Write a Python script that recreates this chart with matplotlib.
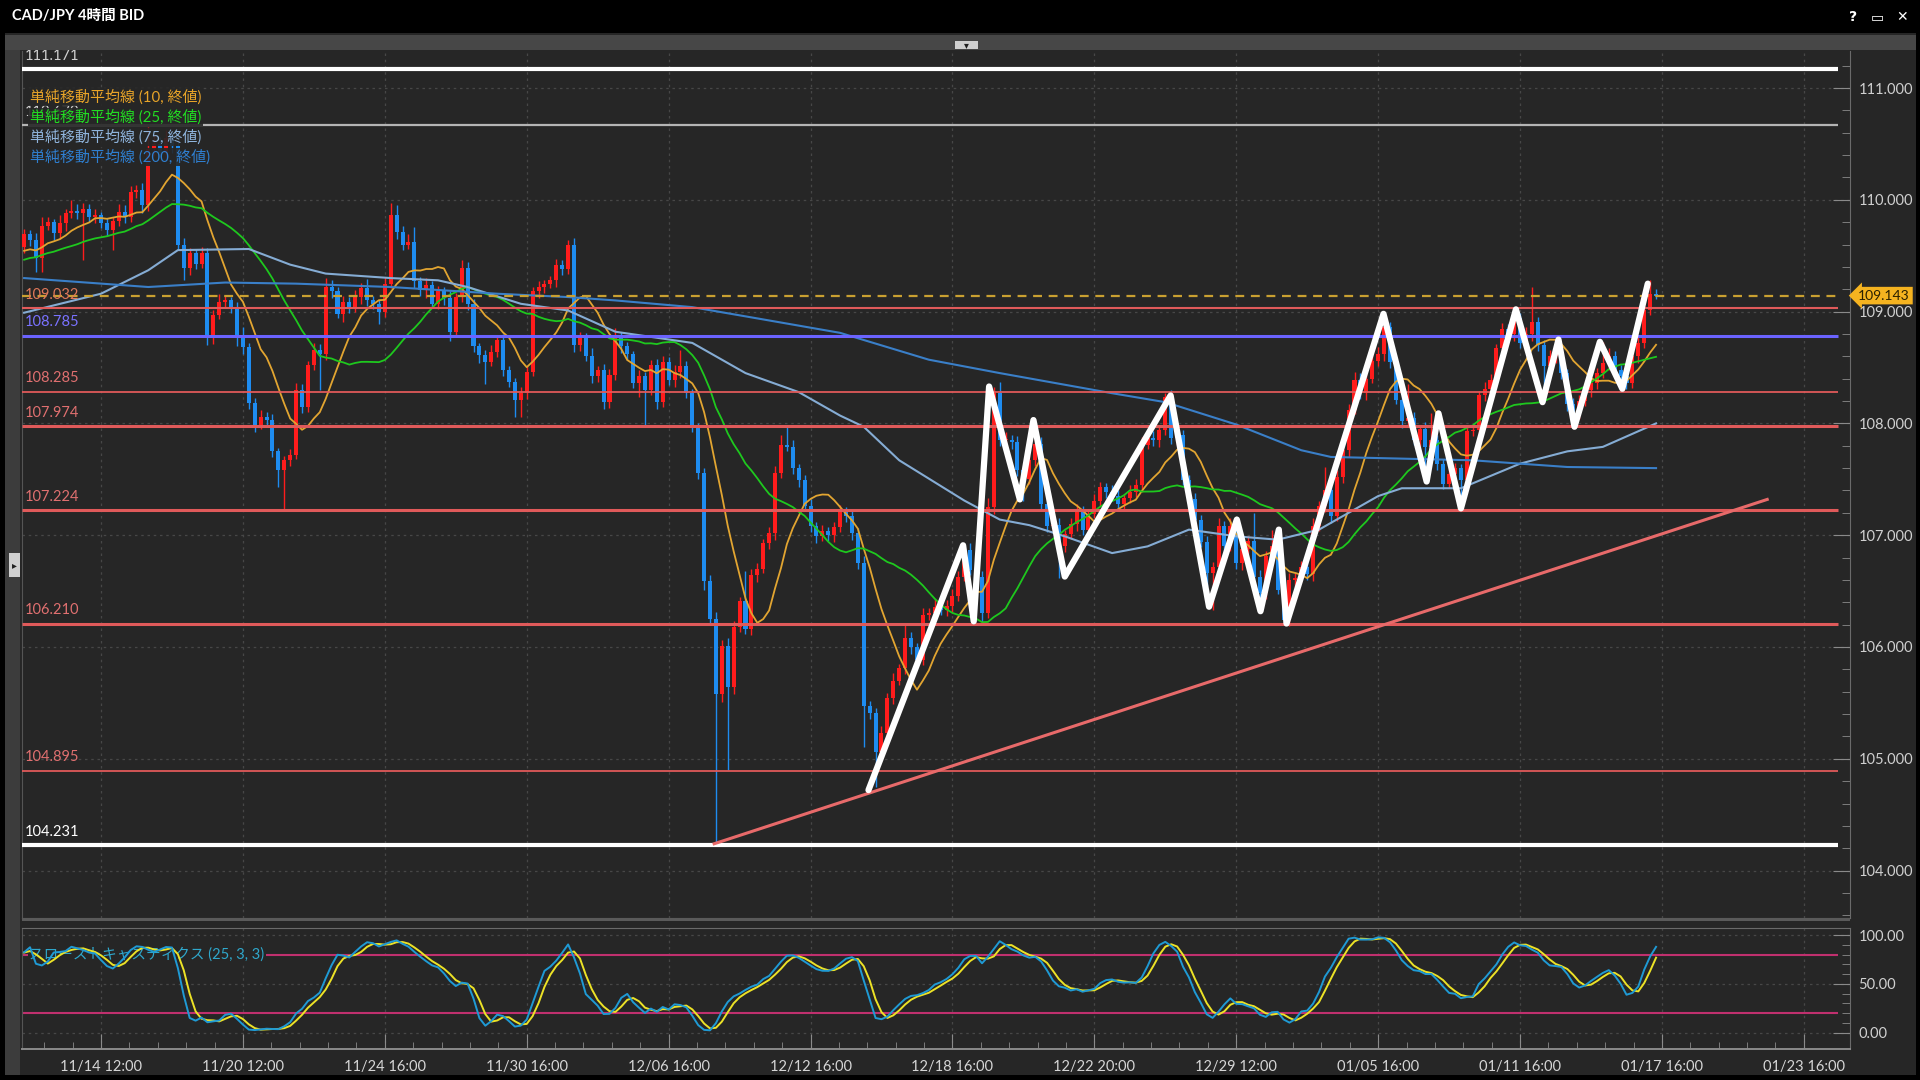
import numpy as np
import pandas as pd
import matplotlib
matplotlib.use("Agg")
import matplotlib.pyplot as plt
from matplotlib.patches import Rectangle
from matplotlib.ticker import FixedLocator

plt.rcParams['font.family'] = ['Lato', 'Noto Sans CJK JP', 'DejaVu Sans']

# ---------------- data ----------------
# closes before the visible window, only used to seed the moving averages / stochastics
prior_closes = [109.25, 109.31, 109.28, 109.36, 109.40, 109.33, 109.45, 109.52, 109.47, 109.39,
                109.44, 109.50, 109.56, 109.48, 109.42, 109.51, 109.58, 109.49, 109.44, 109.53,
                109.60, 109.55, 109.47, 109.58]
first_open = 109.58

closes = np.array([
    109.69, 109.64, 109.48, 109.77, 109.80, 109.70, 109.79, 109.88, 109.90, 109.88,
    109.92, 109.85, 109.86, 109.79, 109.73, 109.81, 109.89, 109.85, 110.07, 110.09,
    109.95, 110.45, 110.50, 110.42, 110.55, 110.48, 109.60, 109.39, 109.52, 109.43,
    109.52, 108.76, 108.97, 109.09, 109.10, 109.04, 108.77, 108.68, 108.18, 107.99,
    108.06, 108.03, 107.75, 107.58, 107.67, 107.72, 108.30, 108.15, 108.52, 108.66,
    108.62, 109.22, 109.18, 108.98, 109.09, 109.04, 109.13, 109.21, 109.10, 109.07,
    109.00, 109.25, 109.86, 109.71, 109.60, 109.62, 109.27, 109.19, 109.24, 109.07,
    109.18, 109.12, 108.82, 109.13, 109.39, 109.07, 108.69, 108.61, 108.55, 108.64,
    108.75, 108.48, 108.37, 108.21, 108.27, 108.46, 109.18, 109.22, 109.25, 109.28,
    109.42, 109.38, 109.60, 108.70, 108.77, 108.60, 108.42, 108.48, 108.19, 108.43,
    108.77, 108.69, 108.62, 108.36, 108.42, 108.30, 108.52, 108.19, 108.55, 108.39,
    108.46, 108.51, 108.27, 107.97, 107.56, 106.59, 106.25, 105.58, 106.01, 105.64,
    106.18, 106.41, 106.16, 106.64, 106.70, 106.93, 107.02, 107.56, 107.81, 107.79,
    107.60, 107.49, 107.26, 107.08, 106.99, 107.04, 107.00, 107.07, 107.21, 107.17,
    107.02, 106.75, 105.47, 105.41, 105.06, 105.23, 105.54, 105.70, 105.81, 106.08,
    106.00, 105.88, 106.29, 106.30, 106.36, 106.33, 106.37, 106.46, 106.63, 106.87,
    106.69, 106.63, 106.30, 107.25, 108.27, 107.85, 107.85, 107.83, 107.58, 107.50,
    107.67, 107.82, 107.28, 107.08, 107.09, 106.90, 107.01, 107.10, 107.21, 107.05,
    107.19, 107.31, 107.43, 107.39, 107.35, 107.28, 107.33, 107.39, 107.45, 107.81,
    107.87, 107.85, 107.94, 108.24, 107.87, 107.90, 107.49, 107.32, 107.14, 106.94,
    106.66, 106.72, 107.08, 106.90, 107.08, 106.75, 106.88, 106.95, 106.63, 106.48,
    106.81, 106.90, 106.51, 106.24, 106.60, 106.62, 106.72, 106.65, 107.08, 107.26,
    107.40, 107.17, 107.52, 107.76, 108.12, 108.39, 108.27, 108.40, 108.56, 108.62,
    108.86, 108.55, 108.21, 108.02, 108.05, 107.85, 107.95, 107.79, 107.85, 107.64,
    107.46, 107.55, 107.60, 107.49, 107.93, 107.94, 108.25, 108.31, 108.39, 108.67,
    108.84, 108.80, 108.94, 108.72, 108.80, 108.91, 108.70, 108.51, 108.60, 108.66,
    108.45, 108.17, 108.09, 108.20, 108.30, 108.36, 108.45, 108.54, 108.60, 108.48,
    108.42, 108.36, 108.60, 108.72, 109.01, 109.16, 109.143])

# upper / lower shadow lengths in pips
wick_up = np.array([
    5, 4, 6, 8, 5, 3, 7, 4, 10, 6,
    5, 4, 6, 3, 5, 4, 7, 6, 5, 4,
    6, 20, 8, 6, 7, 5, 4, 6, 5, 4,
    6, 5, 4, 7, 5, 3, 5, 9, 4, 5,
    6, 4, 5, 3, 4, 5, 6, 5, 4, 6,
    5, 8, 6, 4, 5, 4, 6, 5, 8, 4,
    3, 6, 11, 9, 6, 7, 14, 4, 6, 3,
    5, 4, 6, 4, 7, 5, 4, 3, 5, 6,
    4, 5, 3, 4, 6, 5, 4, 5, 3, 4,
    5, 4, 4, 6, 5, 4, 7, 3, 5, 6,
    8, 5, 4, 3, 6, 4, 5, 6, 5, 4,
    6, 15, 5, 4, 3, 4, 5, 6, 5, 7,
    5, 4, 27, 6, 5, 4, 5, 6, 9, 17,
    6, 4, 5, 6, 4, 5, 3, 5, 6, 4,
    5, 4, 6, 5, 4, 6, 5, 7, 4, 13,
    5, 4, 6, 5, 7, 4, 5, 6, 5, 5,
    6, 4, 5, 8, 6, 10, 7, 5, 6, 4,
    5, 21, 6, 4, 5, 6, 4, 5, 7, 5,
    4, 6, 5, 4, 6, 5, 4, 6, 5, 7,
    5, 6, 4, 3, 6, 5, 4, 5, 6, 4,
    5, 4, 7, 5, 7, 6, 5, 4, 25, 6,
    5, 15, 4, 5, 6, 4, 5, 6, 7, 5,
    21, 5, 6, 4, 5, 7, 6, 4, 5, 6,
    12, 5, 4, 6, 30, 5, 4, 6, 24, 5,
    4, 6, 5, 4, 6, 5, 4, 6, 5, 4,
    6, 5, 8, 5, 6, 31, 4, 5, 6, 9,
    5, 4, 6, 5, 4, 6, 5, 19, 7, 5,
    4, 6, 5, 6, 5, 12, 4])
wick_dn = np.array([
    6, 5, 13, 13, 4, 6, 5, 7, 4, 5,
    42, 5, 6, 4, 5, 18, 4, 6, 5, 5,
    7, 5, 6, 4, 5, 6, 5, 11, 6, 5,
    4, 6, 5, 4, 6, 5, 8, 6, 5, 7,
    4, 6, 5, 15, 35, 5, 4, 6, 5, 4,
    32, 5, 6, 4, 7, 5, 4, 6, 5, 5,
    11, 5, 4, 6, 5, 4, 6, 5, 7, 4,
    5, 6, 8, 5, 4, 6, 5, 7, 20, 4,
    5, 6, 4, 15, 15, 5, 4, 6, 5, 4,
    6, 5, 4, 6, 5, 4, 6, 5, 6, 5,
    4, 6, 5, 4, 12, 32, 5, 6, 4, 5,
    6, 5, 4, 5, 6, 8, 5, 135, 7, 74,
    6, 5, 4, 5, 6, 4, 5, 6, 5, 4,
    5, 6, 4, 5, 6, 4, 5, 6, 4, 5,
    6, 5, 36, 5, 31, 4, 6, 5, 4, 5,
    6, 5, 4, 5, 6, 4, 5, 6, 5, 4,
    5, 6, 8, 4, 6, 5, 4, 6, 5, 19,
    4, 5, 6, 5, 4, 28, 5, 4, 6, 5,
    6, 4, 5, 6, 4, 5, 6, 4, 5, 6,
    4, 5, 6, 4, 5, 6, 4, 5, 6, 5,
    11, 33, 5, 6, 4, 5, 6, 5, 4, 16,
    5, 6, 4, 3, 5, 6, 4, 5, 6, 4,
    5, 6, 4, 5, 6, 4, 5, 6, 4, 5,
    6, 5, 4, 6, 5, 4, 6, 31, 5, 6,
    5, 4, 6, 25, 5, 4, 6, 5, 4, 6,
    5, 4, 6, 5, 4, 6, 5, 32, 4, 6,
    5, 6, 12, 5, 4, 6, 5, 4, 6, 5,
    11, 5, 4, 6, 5, 4, 3])

# long moving averages (need history before the window) read as vertices
ma75_idx = [0, 13, 21, 26, 38, 45, 51, 62, 70, 75, 84, 92, 100, 113, 122, 131, 138, 142,
            148, 159, 165, 170, 176, 184, 190, 197, 205, 212, 219, 224, 229, 233, 243,
            253, 261, 267, 276]
ma75_val = [108.99, 109.16, 109.37, 109.55, 109.56, 109.42, 109.34, 109.30, 109.28, 109.22,
            109.07, 109.01, 108.82, 108.72, 108.45, 108.28, 108.07, 107.97, 107.67, 107.31,
            107.14, 107.09, 106.99, 106.84, 106.90, 107.05, 106.99, 106.96, 107.05, 107.20,
            107.35, 107.42, 107.42, 107.64, 107.75, 107.79, 108.00]
ma200_idx = [0, 21, 34, 46, 62, 80, 92, 100, 113, 125, 138, 153, 165, 184, 193, 205, 216,
             221, 229, 245, 261, 276]
ma200_val = [109.30, 109.22, 109.26, 109.25, 109.22, 109.16, 109.13, 109.10, 109.04, 108.93,
             108.81, 108.57, 108.45, 108.27, 108.19, 107.99, 107.76, 107.70, 107.69, 107.67,
             107.61, 107.60]

# hand drawn white zigzag and the rising trend line
zz_idx = [142.8, 158.8, 160.6, 163.2, 168.4, 170.7, 176.0, 193.9, 200.4, 205.1, 209.1, 212.2,
          213.5, 229.9, 237.2, 239.2, 243.0, 252.3, 256.8, 259.5, 262.2, 266.5, 270.3, 274.6]
zz_val = [104.72, 106.91, 106.23, 108.33, 107.32, 108.03, 106.63, 108.25, 106.36, 107.14,
          106.32, 107.05, 106.21, 108.98, 107.48, 108.09, 107.24, 109.02, 108.19, 108.75,
          107.97, 108.73, 108.31, 109.25]
trend_idx = [116.7, 294.8]
trend_val = [104.24, 107.32]

# horizontal levels
level_price = [111.171, 110.670, 109.032, 108.785, 108.285, 107.974, 107.224, 106.210, 104.895, 104.231]
level_color = ['#ffffff', '#b4b4b4', '#e05a5a', '#6b63ff', '#e05a5a', '#e05a5a', '#e05a5a',
               '#e05a5a', '#e05a5a', '#ffffff']
level_width = [3.0, 1.6, 1.5, 2.2, 1.3, 2.2, 2.2, 2.2, 1.3, 3.0]
level_text_color = ['#cfcfcf', '#cfcfcf', '#e0785a', '#7a72ff', '#e07070', '#e07070',
                    '#e07070', '#e07070', '#e07070', '#ffffff']

xtick_idx = [13, 37, 61, 85, 109, 133, 157, 181, 205, 229, 253, 277, 301]
xtick_lab = ['11/14 12:00', '11/20 12:00', '11/24 16:00', '11/30 16:00', '12/06 16:00',
             '12/12 16:00', '12/18 16:00', '12/22 20:00', '12/29 12:00', '01/05 16:00',
             '01/11 16:00', '01/17 16:00', '01/23 16:00']

ma_labels = ['単純移動平均線 (10, 終値)', '単純移動平均線 (25, 終値)',
             '単純移動平均線 (75, 終値)', '単純移動平均線 (200, 終値)']

# ---------------- derived series ----------------
opens = np.r_[first_open, closes[:-1]]
highs = np.maximum(opens, closes) + wick_up / 100
lows = np.minimum(opens, closes) - wick_dn / 100
x = np.arange(len(closes))

n_prior = len(prior_closes)
all_close = pd.Series(np.r_[prior_closes, closes])
ma10 = all_close.rolling(10).mean().to_numpy()[n_prior:]
ma25 = all_close.rolling(25).mean().to_numpy()[n_prior:]

all_high = pd.Series(np.r_[prior_closes, highs])
all_low = pd.Series(np.r_[prior_closes, lows])
ll = all_low.rolling(25, min_periods=1).min()
hh = all_high.rolling(25, min_periods=1).max()
fast_k = 100 * (all_close - ll) / (hh - ll)
slow_k = fast_k.rolling(3, min_periods=1).mean()
slow_d = slow_k.rolling(3, min_periods=1).mean()
slow_k = slow_k.to_numpy()[n_prior:]
slow_d = slow_d.to_numpy()[n_prior:]

# ---------------- figure ----------------
W, H = 1920, 1080
BG = '#262626'
UP, DOWN = '#ff1c1c', '#1e8cf0'
XLIM = (-0.36, 308.8)
XEND = 306.75
GRID = dict(color='#474747', lw=0.9, ls=(0, (2, 3)), zorder=0)


def box(x0, y0, x1, y1):
    return [x0 / W, 1 - y1 / H, (x1 - x0) / W, (y1 - y0) / H]


def fig_rect(x0, y0, x1, y1, color):
    fig.add_artist(Rectangle((x0 / W, 1 - y1 / H), (x1 - x0) / W, (y1 - y0) / H,
                             transform=fig.transFigure, color=color, lw=0))


fig = plt.figure(figsize=(W / 100, H / 100), dpi=100, facecolor=BG)
ax = fig.add_axes(box(22, 51, 1850, 918))
ax_st = fig.add_axes(box(22, 928, 1850, 1049), sharex=ax)

for a in (ax, ax_st):
    a.set_facecolor(BG)
    for s in a.spines.values():
        s.set_color('#6a6a6a')
    a.spines['left'].set_color('#555555')
    for i in xtick_idx:
        a.axvline(i, **GRID)
ax.spines['top'].set_visible(False)

# main panel
ax.set_xlim(*XLIM)
ax.set_ylim(103.576, 111.331)
for p in range(104, 112):
    ax.axhline(p, **GRID)

colors = np.where(closes >= opens, UP, DOWN)
ax.vlines(x, lows, highs, colors=colors, lw=1, zorder=3)
ax.bar(x, np.maximum(np.abs(closes - opens), 0.012), bottom=np.minimum(opens, closes),
       width=0.68, color=colors, lw=0, zorder=4)

ax.plot(x, ma10, color='#e2a531', lw=1.3, zorder=5)
ax.plot(x, ma25, color='#1ec81e', lw=1.3, zorder=5)
ax.plot(ma75_idx, ma75_val, color='#85acd4', lw=1.5, zorder=5)
ax.plot(ma200_idx, ma200_val, color='#3a7fc8', lw=1.5, zorder=5)

for p, c, w, tc in zip(level_price, level_color, level_width, level_text_color):
    ax.hlines(p, XLIM[0], XEND, color=c, lw=w, zorder=6)
    ax.annotate(f'{p:.3f}', xy=(0, p), xycoords=('axes fraction', 'data'),
                xytext=(2, 9.5), textcoords='offset points', ha='left', va='center',
                fontsize=10.5, color=tc, zorder=9)

last = closes[-1]
ax.hlines(last, XLIM[0], XEND, color='#c9a031', lw=1.6, ls=(0, (4, 3)), zorder=6)
ax.annotate(f'{last:.3f}', xy=(1.0, last), xycoords=('axes fraction', 'data'),
            xytext=(6, 0), textcoords='offset points', ha='left', va='center',
            fontsize=10, color='#2a2000',
            bbox=dict(boxstyle='larrow,pad=0.2', fc='#f5b320', ec='none'),
            annotation_clip=False, zorder=10)

ax.plot(trend_idx, trend_val, color='#e86a6a', lw=2.2, zorder=7)
ax.plot(zz_idx, zz_val, color='white', lw=4.5, solid_joinstyle='round',
        solid_capstyle='round', zorder=8)

ax.yaxis.tick_right()
ax.set_yticks(range(104, 112))
ax.set_yticklabels([f'{p:.3f}' for p in range(104, 112)])
ax.yaxis.set_minor_locator(FixedLocator(np.arange(103.6, 111.4, 0.2)))
ax.tick_params(axis='y', which='major', direction='in', length=12, color='#8a8a8a',
               labelcolor='#d0d0d0', labelsize=10.5, pad=6)
ax.tick_params(axis='y', which='minor', direction='in', length=6, color='#8a8a8a')
ax.tick_params(axis='x', which='both', bottom=False, labelbottom=False)

# indicator legend: drawn with a nearly opaque backing, as in the platform
leg_colors = ['#e8a428', '#22dd22', '#8fb4dc', '#2f7fd0']
for i, (t, c) in enumerate(zip(ma_labels, leg_colors)):
    fig.text(30 / W, 1 - (97 + i * 20) / H, t, color=c, fontsize=10.8, va='center', ha='left',
             zorder=5, bbox=dict(fc=BG, ec='none', alpha=0.9, pad=1.2))

# stochastics panel
ax_st.set_ylim(-16.9, 107.2)
for p in (0, 50, 100):
    ax_st.axhline(p, **GRID)
ax_st.hlines([80, 20], XLIM[0], XEND, color='#c0306e', lw=1.5, zorder=1)
ax_st.text(0.004, 80, 'スローストキャスティクス (25, 3, 3)', transform=ax_st.get_yaxis_transform(),
           color='#2fa8cc', fontsize=10.5, va='center', ha='left', zorder=2,
           bbox=dict(fc=BG, ec='none', pad=1))
ax_st.plot(x, slow_d, color='#ece226', lw=1.4, zorder=3)
ax_st.plot(x, slow_k, color='#1f9ad4', lw=1.4, zorder=4)

ax_st.yaxis.tick_right()
ax_st.set_yticks([0, 50, 100])
ax_st.set_yticklabels(['0.00', '50.00', '100.00'])
ax_st.yaxis.set_minor_locator(FixedLocator(np.arange(0, 101, 10)))
ax_st.tick_params(axis='y', which='major', direction='in', length=12, color='#8a8a8a',
                  labelcolor='#d0d0d0', labelsize=10.5, pad=6)
ax_st.tick_params(axis='y', which='minor', direction='in', length=6, color='#8a8a8a')

ax_st.set_xticks(xtick_idx)
ax_st.set_xticklabels(xtick_lab)
minor_x = np.concatenate([np.linspace(m - 24, m, 6)[:-1] for m in xtick_idx] + [[xtick_idx[-1]]])
ax_st.xaxis.set_minor_locator(FixedLocator(minor_x[minor_x > XLIM[0]]))
ax_st.tick_params(axis='x', which='major', direction='in', length=11, color='#8a8a8a',
                  labelcolor='#d6d6d6', labelsize=10.5, pad=8)
ax_st.tick_params(axis='x', which='minor', direction='in', length=5, color='#8a8a8a')
ax_st.spines['bottom'].set_color('#8a8a8a')
ax_st.spines['bottom'].set_linewidth(1.4)

# window chrome
fig_rect(0, 0, W, 33, '#000000')
fig_rect(4, 35, 1916, 50, '#474747')
fig_rect(955, 41, 978, 49, '#d0d0d0')
fig.text(966.5 / W, 1 - 45 / H, '▾', color='#202020', fontsize=7, ha='center', va='center',
         family='DejaVu Sans')
fig_rect(0, 33, 5, H, '#000000')
fig_rect(5, 50, 20, 1075, '#3c3c3c')
fig_rect(9, 553, 20, 577, '#d0d0d0')
fig.text(14.5 / W, 1 - 565 / H, '▸', color='#202020', fontsize=7, ha='center', va='center',
         family='DejaVu Sans')
fig_rect(1916, 33, W, H, '#000000')
fig_rect(0, 1075, W, H, '#000000')
fig_rect(22, 918, 1850, 921, '#5a5a5a')
fig.text(12 / W, 1 - 16 / H, 'CAD/JPY 4時間 BID', color='white', fontsize=10.5,
         fontweight='bold', va='center', ha='left')
for xp, t in ((1853, '?'), (1877, '▭'), (1902, '✕')):
    fig.text(xp / W, 1 - 17 / H, t, color='white', fontsize=10, fontweight='bold',
             va='center', ha='center', family='DejaVu Sans')

fig.savefig('out.png', dpi=100, facecolor=fig.get_facecolor())
